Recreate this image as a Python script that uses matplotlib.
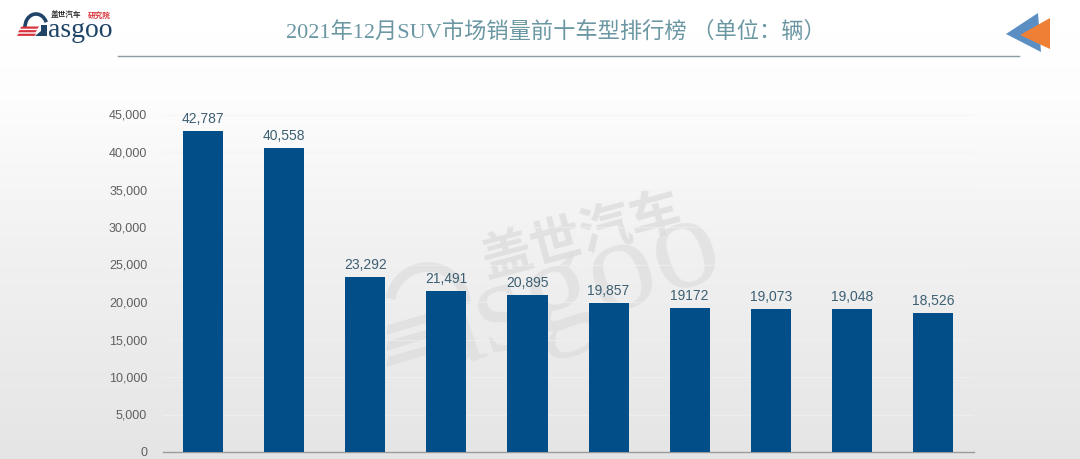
import matplotlib

matplotlib.use("Agg")
import matplotlib.pyplot as plt
from matplotlib.patches import Arc, Polygon
import numpy as np

values = [42787, 40558, 23292, 21491, 20895, 19857, 19172, 19073, 19048, 18526]
value_labels = ["42,787", "40,558", "23,292", "21,491", "20,895",
                "19,857", "19172", "19,073", "19,048", "18,526"]
y_ticks = [0, 5000, 10000, 15000, 20000, 25000, 30000, 35000, 40000, 45000]
title = "2021年12月SUV市场销量前十车型排行榜 （单位：辆）"

W, H = 1080, 459
cjk_serif = ["Liberation Serif", "Noto Sans CJK SC"]
fig = plt.figure(figsize=(W / 100, H / 100), dpi=100)

# background, in pixel coordinates
bg = fig.add_axes([0, 0, 1, 1], zorder=0)
bg.set_xlim(0, W)
bg.set_ylim(H, 0)
bg.axis("off")
grad = np.interp(np.arange(H), [0, 100, 250, 459], [255, 252, 240, 228]) / 255
bg.imshow(grad[:, None], cmap="gray", vmin=0, vmax=1, aspect="auto", extent=[0, W, H, 0])

# watermark
wm = "#d8d8d8"
bg.text(582, 236, "盖世汽车", fontsize=37, color=wm, rotation=15, ha="center", va="center",
        family="Noto Sans CJK SC", fontweight="bold", alpha=0.65)
bg.text(570, 292, "asgoo", fontsize=96, color=wm, rotation=19, ha="center", va="center",
        family="Liberation Serif", alpha=0.55)
bg.add_patch(Arc((428, 305), 76, 76, angle=19, theta1=170, theta2=340, color=wm, lw=7, alpha=0.55))
for dy in (0, 16, 32):
    bg.add_patch(Polygon([[388, 325 + dy], [440, 310 + dy], [436, 320 + dy], [386, 335 + dy]],
                         color=wm, alpha=0.55, lw=0))

# logo
navy = "#1f4468"
red = "#d8323c"
bg.add_patch(Arc((36, 27), 22, 26, theta1=175, theta2=335, color=navy, lw=2.6))
for i, x0 in enumerate((20, 18, 17)):
    y0 = 26.5 + i * 3.6
    bg.add_patch(Polygon([[x0, y0 + 2.2], [x0 + 1.5, y0], [x0 + 19, y0], [x0 + 17.5, y0 + 2.2]], color=red, lw=0))
bg.add_patch(Polygon([[35, 36], [47, 36], [47, 25], [41, 25], [41, 31]], color=navy, lw=0))
bg.text(80, 37, "asgoo", fontsize=20, color=navy, ha="center", va="baseline", family="Liberation Serif")
bg.text(66, 15, "盖世汽车", fontsize=5.5, color="#333333", ha="center", va="center",
        family="Noto Sans CJK SC", fontweight="bold")
bg.text(99, 15, "研究院", fontsize=5.5, color=red, ha="center", va="center",
        family="Noto Sans CJK SC", fontweight="bold")

# header
bg.text(556, 32, title, fontsize=16, color="#6b97a3", ha="center", va="center", family=cjk_serif)
bg.plot([118, 1019], [55.5, 55.5], color="#8a9ba3", lw=1)
bg.add_patch(Polygon([[1006, 34], [1038, 13], [1041, 52]], color="#5b8fc4", lw=0))
bg.add_patch(Polygon([[1020, 35], [1050, 18], [1050, 49]], color="#ee7f35", lw=0))
bg.set_xlim(0, W)
bg.set_ylim(H, 0)

# chart
ax = fig.add_axes([162.5 / W, (H - 452) / H, (973.6 - 162.5) / W, 337.5 / H], zorder=1)
ax.patch.set_alpha(0)
x = np.arange(len(values))
ax.bar(x, values, width=0.495, color="#014e89", zorder=3)
for xi, v, lab in zip(x, values, value_labels):
    ax.annotate(lab, (xi, v), xytext=(0, 3.5), textcoords="offset points", ha="center", va="bottom",
                fontsize=10, color="#3d5f73", family="Liberation Sans")
ax.set_xlim(-0.5, 9.5)
ax.set_ylim(0, 45000)
ax.set_xticks([])
ax.set_yticks(y_ticks)
ax.set_yticklabels([f"{t:,}" for t in y_ticks], fontsize=9, color="#5f5f5f", family="Liberation Sans")
ax.tick_params(axis="y", length=0, pad=11)
ax.yaxis.grid(True, color="#f3f3f3", lw=1, alpha=0.5, zorder=1)
ax.set_axisbelow(True)
for side in ("top", "left", "right"):
    ax.spines[side].set_visible(False)
ax.spines["bottom"].set_color("#9a9a9a")
ax.spines["bottom"].set_linewidth(1)

fig.savefig("out.png", dpi=100)
plt.close(fig)
